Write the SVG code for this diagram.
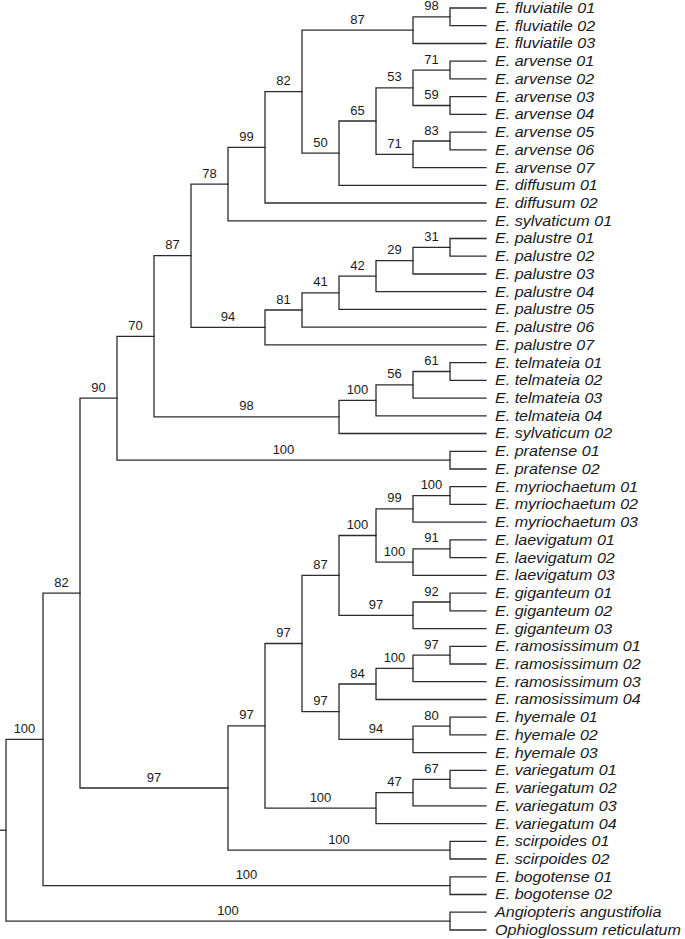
<svg xmlns="http://www.w3.org/2000/svg" width="685" height="939" viewBox="0 0 685 939">
<style>
.br{fill:none;stroke:#2b2b2b;stroke-width:1.3;stroke-linecap:square}
.bs{font-family:"Liberation Sans",Arial,sans-serif;font-size:13px;fill:#1a1a1a;text-anchor:middle}
.lf{font-family:"Liberation Sans",Arial,sans-serif;font-size:14px;font-style:italic;fill:#1a1a1a}
</style>
<rect width="685" height="939" fill="#ffffff"/>
<g id="connectors" class="br">
<path d="M0,830.2 H6"/>
<path d="M43,739.4 H6 V921.1 H450"/>
<path d="M80,593.1 H43 V885.6 H450"/>
<path d="M117,398.2 H80 V788 H228"/>
<path d="M154,336.3 H117 V460.1 H450"/>
<path d="M191,255.7 H154 V416.9 H339"/>
<path d="M228,184.1 H191 V327.4 H265"/>
<path d="M265,147.4 H228 V220.8 H486"/>
<path d="M302,91.7 H265 V203 H486"/>
<path d="M413,30.2 H302 V153.2 H339"/>
<path d="M450,16.9 H413 V43.5 H486"/>
<path d="M486,8 H450 V25.7 H486"/>
<path d="M376,121 H339 V185.3 H486"/>
<path d="M413,87.8 H376 V154.3 H413"/>
<path d="M450,70.1 H413 V105.5 H450"/>
<path d="M486,61.2 H450 V78.9 H486"/>
<path d="M486,96.7 H450 V114.4 H486"/>
<path d="M450,141 H413 V167.6 H486"/>
<path d="M486,132.1 H450 V149.8 H486"/>
<path d="M302,310 H265 V344.9 H486"/>
<path d="M339,292.8 H302 V327.1 H486"/>
<path d="M376,276.2 H339 V309.4 H486"/>
<path d="M413,260.7 H376 V291.7 H486"/>
<path d="M450,247.4 H413 V274 H486"/>
<path d="M486,238.5 H450 V256.2 H486"/>
<path d="M376,400.3 H339 V433.5 H486"/>
<path d="M413,384.8 H376 V415.8 H486"/>
<path d="M450,371.5 H413 V398.1 H486"/>
<path d="M486,362.6 H450 V380.3 H486"/>
<path d="M486,451.3 H450 V469 H486"/>
<path d="M265,725.8 H228 V850.2 H450"/>
<path d="M302,643.5 H265 V808.1 H376"/>
<path d="M339,575.4 H302 V711.7 H339"/>
<path d="M376,535.5 H339 V615.3 H413"/>
<path d="M413,508.9 H376 V562.1 H413"/>
<path d="M450,495.6 H413 V522.2 H486"/>
<path d="M486,486.7 H450 V504.4 H486"/>
<path d="M450,548.8 H413 V575.4 H486"/>
<path d="M486,539.9 H450 V557.6 H486"/>
<path d="M450,602 H413 V628.6 H486"/>
<path d="M486,593.1 H450 V610.8 H486"/>
<path d="M376,684 H339 V739.4 H413"/>
<path d="M413,668.4 H376 V699.5 H486"/>
<path d="M450,655.2 H413 V681.7 H486"/>
<path d="M486,646.3 H450 V664 H486"/>
<path d="M450,726.1 H413 V752.7 H486"/>
<path d="M486,717.2 H450 V734.9 H486"/>
<path d="M413,792.6 H376 V823.6 H486"/>
<path d="M450,779.3 H413 V805.9 H486"/>
<path d="M486,770.4 H450 V788.1 H486"/>
<path d="M486,841.3 H450 V859 H486"/>
<path d="M486,876.8 H450 V894.5 H486"/>
<path d="M486,912.2 H450 V930 H486"/>
</g>
<g id="support" class="bs">
<text x="431.5" y="10.4">98</text>
<text x="357.5" y="23.7">87</text>
<text x="431.5" y="63.6">71</text>
<text x="431.5" y="99">59</text>
<text x="394.5" y="81.3">53</text>
<text x="431.5" y="134.5">83</text>
<text x="394.5" y="147.8">71</text>
<text x="357.5" y="114.5">65</text>
<text x="320.5" y="146.7">50</text>
<text x="283.5" y="85.2">82</text>
<text x="246.5" y="140.9">99</text>
<text x="209.5" y="177.6">78</text>
<text x="431.5" y="240.9">31</text>
<text x="394.5" y="254.2">29</text>
<text x="357.5" y="269.7">42</text>
<text x="320.5" y="286.3">41</text>
<text x="283.5" y="303.5">81</text>
<text x="228" y="320.9">94</text>
<text x="172.5" y="249.2">87</text>
<text x="431.5" y="365">61</text>
<text x="394.5" y="378.3">56</text>
<text x="357.5" y="393.8">100</text>
<text x="246.5" y="410.4">98</text>
<text x="135.5" y="329.8">70</text>
<text x="283.5" y="453.6">100</text>
<text x="98.5" y="391.7">90</text>
<text x="431.5" y="489.1">100</text>
<text x="394.5" y="502.4">99</text>
<text x="431.5" y="542.3">91</text>
<text x="394.5" y="555.6">100</text>
<text x="357.5" y="529">100</text>
<text x="431.5" y="595.5">92</text>
<text x="376" y="608.8">97</text>
<text x="320.5" y="568.9">87</text>
<text x="431.5" y="648.7">97</text>
<text x="394.5" y="661.9">100</text>
<text x="357.5" y="677.5">84</text>
<text x="431.5" y="719.6">80</text>
<text x="376" y="732.9">94</text>
<text x="320.5" y="705.2">97</text>
<text x="283.5" y="637">97</text>
<text x="431.5" y="772.8">67</text>
<text x="394.5" y="786.1">47</text>
<text x="320.5" y="801.6">100</text>
<text x="246.5" y="719.3">97</text>
<text x="339" y="843.7">100</text>
<text x="154" y="781.5">97</text>
<text x="61.5" y="586.6">82</text>
<text x="246.5" y="879.1">100</text>
<text x="24.5" y="732.9">100</text>
<text x="228" y="914.6">100</text>
</g>
<g id="leaves" class="lf" transform="scale(1.15 1)">
<g id="fluviatile01"><text x="430.4" y="13">E. fluviatile 01</text></g>
<g id="fluviatile02"><text x="430.4" y="30.7">E. fluviatile 02</text></g>
<g id="fluviatile03"><text x="430.4" y="48.5">E. fluviatile 03</text></g>
<g id="arvense01"><text x="430.4" y="66.2">E. arvense 01</text></g>
<g id="arvense02"><text x="430.4" y="83.9">E. arvense 02</text></g>
<g id="arvense03"><text x="430.4" y="101.7">E. arvense 03</text></g>
<g id="arvense04"><text x="430.4" y="119.4">E. arvense 04</text></g>
<g id="arvense05"><text x="430.4" y="137.1">E. arvense 05</text></g>
<g id="arvense06"><text x="430.4" y="154.8">E. arvense 06</text></g>
<g id="arvense07"><text x="430.4" y="172.6">E. arvense 07</text></g>
<g id="diffusum01"><text x="430.4" y="190.3">E. diffusum 01</text></g>
<g id="diffusum02"><text x="430.4" y="208">E. diffusum 02</text></g>
<g id="sylvaticum01"><text x="430.4" y="225.8">E. sylvaticum 01</text></g>
<g id="palustre01"><text x="430.4" y="243.5">E. palustre 01</text></g>
<g id="palustre02"><text x="430.4" y="261.2">E. palustre 02</text></g>
<g id="palustre03"><text x="430.4" y="279">E. palustre 03</text></g>
<g id="palustre04"><text x="430.4" y="296.7">E. palustre 04</text></g>
<g id="palustre05"><text x="430.4" y="314.4">E. palustre 05</text></g>
<g id="palustre06"><text x="430.4" y="332.1">E. palustre 06</text></g>
<g id="palustre07"><text x="430.4" y="349.9">E. palustre 07</text></g>
<g id="telmateia01"><text x="430.4" y="367.6">E. telmateia 01</text></g>
<g id="telmateia02"><text x="430.4" y="385.3">E. telmateia 02</text></g>
<g id="telmateia03"><text x="430.4" y="403.1">E. telmateia 03</text></g>
<g id="telmateia04"><text x="430.4" y="420.8">E. telmateia 04</text></g>
<g id="sylvaticum02"><text x="430.4" y="438.5">E. sylvaticum 02</text></g>
<g id="pratense01"><text x="430.4" y="456.3">E. pratense 01</text></g>
<g id="pratense02"><text x="430.4" y="474">E. pratense 02</text></g>
<g id="myriochaetum01"><text x="430.4" y="491.7">E. myriochaetum 01</text></g>
<g id="myriochaetum02"><text x="430.4" y="509.4">E. myriochaetum 02</text></g>
<g id="myriochaetum03"><text x="430.4" y="527.2">E. myriochaetum 03</text></g>
<g id="laevigatum01"><text x="430.4" y="544.9">E. laevigatum 01</text></g>
<g id="laevigatum02"><text x="430.4" y="562.6">E. laevigatum 02</text></g>
<g id="laevigatum03"><text x="430.4" y="580.4">E. laevigatum 03</text></g>
<g id="giganteum01"><text x="430.4" y="598.1">E. giganteum 01</text></g>
<g id="giganteum02"><text x="430.4" y="615.8">E. giganteum 02</text></g>
<g id="giganteum03"><text x="430.4" y="633.6">E. giganteum 03</text></g>
<g id="ramosissimum01"><text x="430.4" y="651.3">E. ramosissimum 01</text></g>
<g id="ramosissimum02"><text x="430.4" y="669">E. ramosissimum 02</text></g>
<g id="ramosissimum03"><text x="430.4" y="686.7">E. ramosissimum 03</text></g>
<g id="ramosissimum04"><text x="430.4" y="704.5">E. ramosissimum 04</text></g>
<g id="hyemale01"><text x="430.4" y="722.2">E. hyemale 01</text></g>
<g id="hyemale02"><text x="430.4" y="739.9">E. hyemale 02</text></g>
<g id="hyemale03"><text x="430.4" y="757.7">E. hyemale 03</text></g>
<g id="variegatum01"><text x="430.4" y="775.4">E. variegatum 01</text></g>
<g id="variegatum02"><text x="430.4" y="793.1">E. variegatum 02</text></g>
<g id="variegatum03"><text x="430.4" y="810.9">E. variegatum 03</text></g>
<g id="variegatum04"><text x="430.4" y="828.6">E. variegatum 04</text></g>
<g id="scirpoides01"><text x="430.4" y="846.3">E. scirpoides 01</text></g>
<g id="scirpoides02"><text x="430.4" y="864">E. scirpoides 02</text></g>
<g id="bogotense01"><text x="430.4" y="881.8">E. bogotense 01</text></g>
<g id="bogotense02"><text x="430.4" y="899.5">E. bogotense 02</text></g>
<g id="angiopteris"><text x="430.4" y="917.2">Angiopteris angustifolia</text></g>
<g id="ophioglossum"><text x="430.4" y="935">Ophioglossum reticulatum</text></g>
</g>
</svg>
